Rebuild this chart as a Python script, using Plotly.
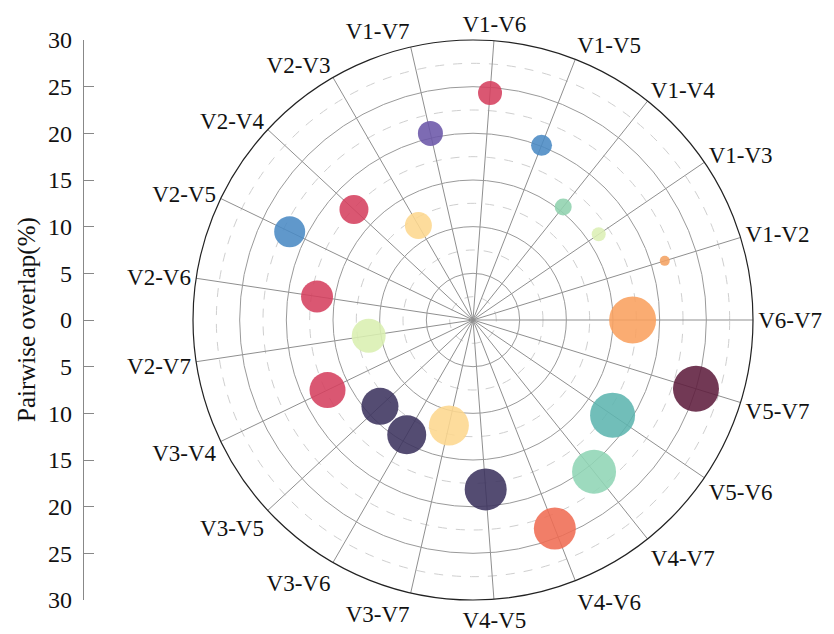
import plotly.graph_objects as go

# Pairwise overlap between variables V1..V7
pairs = ["V1-V2", "V1-V3", "V1-V4", "V1-V5", "V1-V6", "V1-V7",
         "V2-V3", "V2-V4", "V2-V5", "V2-V6", "V2-V7",
         "V3-V4", "V3-V5", "V3-V6", "V3-V7",
         "V4-V5", "V4-V6", "V4-V7",
         "V5-V6", "V5-V7", "V6-V7"]
overlap = [21.5, 16.3, 15.5, 20.1, 24.4, 20.5,
           11.7, 17.4, 21.8, 16.9, 11.3,
           17.3, 13.6, 14.2, 11.6,
           18.2, 24.0, 20.8,
           18.1, 25.0, 17.1]
bubble_size = [10, 14, 17, 21, 24, 25,
               27, 29, 31, 32, 34,
               36, 37, 39, 40,
               42, 42, 44,
               45, 46, 47]
bubble_color = ["#F4A262", "#DCEFB5", "#8FD1AE", "#4A8AC4", "#D5405E", "#6B56A8",
                "#FDD78E", "#D5405E", "#4A8AC4", "#D5405E", "#D9EFB0",
                "#D5405E", "#3C335F", "#3C335F", "#FDD78E",
                "#3C335F", "#EF6C53", "#8FD5B5",
                "#5DB5AF", "#5E1E3E", "#F9A05E"]

radial_major = [0, 5, 10, 15, 20, 25]
radial_minor = [2.5, 7.5, 12.5, 17.5, 22.5, 27.5]
axis_ticks = [-30, -25, -20, -15, -10, -5, 0, 5, 10, 15, 20, 25, 30]
axis_ticktext = [str(abs(v)) for v in axis_ticks]

W, H = 834, 634
cx, cy, R = 473, 320, 280
dom_x = [(cx - R) / W, (cx + R) / W]
dom_y = [(H - cy - R) / H, (H - cy + R) / H]
step = 360 / len(pairs)
serif = "Liberation Serif, Times New Roman, serif"

fig = go.Figure()

# dashed half-step rings (underlying polar)
fig.add_trace(go.Scatterpolar(r=[0], theta=[0], mode="markers",
                              marker=dict(size=1, opacity=0),
                              hoverinfo="skip", showlegend=False,
                              subplot="polar"))

# bubbles
fig.add_trace(go.Scatterpolar(
    r=overlap, theta=pairs, mode="markers",
    marker=dict(size=bubble_size, color=bubble_color, opacity=0.88,
                line=dict(width=0)),
    showlegend=False, subplot="polar2"))

# invisible trace to host the linear side axis
fig.add_trace(go.Scatter(x=[0, 0], y=[-30, 30], mode="markers",
                         marker=dict(opacity=0), hoverinfo="skip",
                         showlegend=False))

fig.update_layout(
    width=W, height=H, autosize=False,
    margin=dict(l=0, r=0, t=0, b=0, pad=0, autoexpand=False),
    paper_bgcolor="white", plot_bgcolor="rgba(0,0,0,0)",
    font=dict(family=serif, size=23, color="#111111"),
    polar=dict(
        domain=dict(x=dom_x, y=dom_y),
        bgcolor="white",
        radialaxis=dict(range=[0, 30], tickvals=radial_minor,
                        showticklabels=False, ticks="", showline=False,
                        gridcolor="#cfcfcf", gridwidth=1, griddash="dash"),
        angularaxis=dict(showgrid=False, showline=False, showticklabels=False,
                         ticks=""),
    ),
    polar2=dict(
        domain=dict(x=dom_x, y=dom_y),
        bgcolor="rgba(0,0,0,0)",
        radialaxis=dict(range=[0, 30], tickvals=radial_major,
                        showticklabels=False, ticks="", showline=False,
                        gridcolor="#9a9a9a", gridwidth=1),
        angularaxis=dict(type="category", categoryorder="array",
                         categoryarray=pairs,
                         rotation=step, direction="counterclockwise",
                         showline=True, linecolor="#222222", linewidth=1.2,
                         gridcolor="#8f8f8f", gridwidth=1,
                         ticks="",
                         tickfont=dict(family=serif, size=23, color="#111111")),
    ),
    xaxis=dict(visible=False, domain=[0.1, 0.2], range=[0, 1],
               automargin=False),
    yaxis=dict(anchor="free", position=83 / W, domain=dom_y,
               range=[-30, 30], tickvals=axis_ticks, ticktext=axis_ticktext,
               ticks="inside", ticklen=10, tickcolor="#888888",
               showline=True, linecolor="#888888", linewidth=1.2,
               showgrid=False, zeroline=False, ticklabelstandoff=6,
               automargin=False,
               tickfont=dict(family=serif, size=24, color="#111111")),
    annotations=[dict(text="Pairwise overlap(%)", x=27 / W, y=(H - cy) / H,
                      xref="paper", yref="paper", textangle=-90,
                      showarrow=False, xanchor="center", yanchor="middle",
                      font=dict(family=serif, size=25, color="#111111"))],
)

fig.write_html("out.html")
